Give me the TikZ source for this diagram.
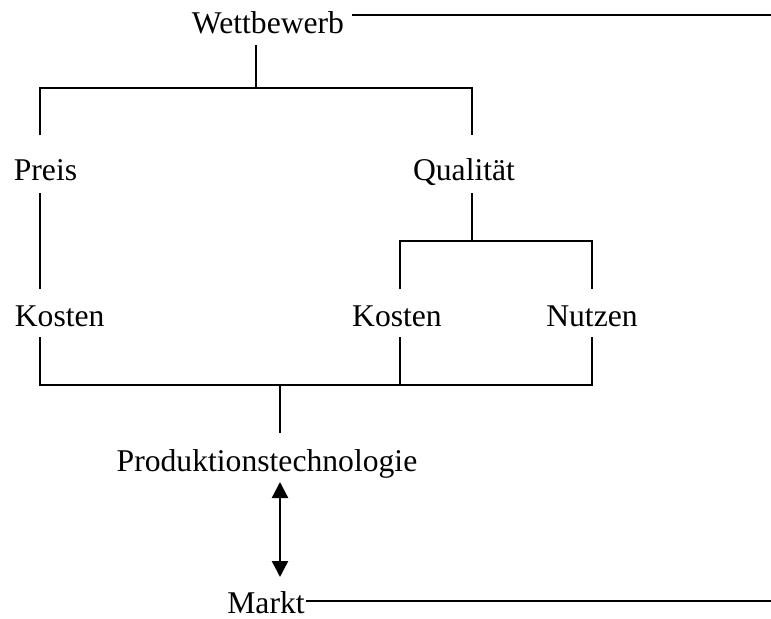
\documentclass[tikz,border=0pt]{standalone}
\usepackage{fontspec}
\setmainfont{Liberation Serif}
\usetikzlibrary{arrows.meta}

\begin{document}
\begin{tikzpicture}[x=0.025cm, y=-0.025cm, line width=1.2pt,
    lbl/.style={inner sep=0pt, font=\fontsize{22.5}{27}\selectfont},
    dbl/.style={line width=1.7pt, {Triangle[width=0.4cm,length=0.4cm]}-{Triangle[width=0.4cm,length=0.4cm]}}]
  \useasboundingbox (0,0) rectangle (771,619);
  % Begriffe
  \node[lbl, anchor=base] (wett) at (268,33) {Wettbewerb};
  \node[lbl, anchor=base west] (preis) at (13,180) {Preis};
  \node[lbl, anchor=base] (qual) at (464,180) {Qualität};
  \node[lbl, anchor=base west] (kostenP) at (14,326) {Kosten};
  \node[lbl, anchor=base] (kostenQ) at (397,326) {Kosten};
  \node[lbl, anchor=base] (nutzen) at (592,326) {Nutzen};
  \node[lbl, anchor=base] (prod) at (267,471) {Produktionstechnologie};
  \node[lbl, anchor=base] (markt) at (266,613) {Markt};
  % Wettbewerb -> Preis / Qualitaet
  \coordinate (wAst) at (256,88);
  \draw (256,45) -- (wAst);
  \draw (40,135) |- (wAst) -| (472,135);
  % Preis -> Kosten
  \draw (40,193) -- (40,289);
  % Qualitaet -> Kosten / Nutzen
  \coordinate (qAst) at (472,241);
  \draw (472,193) -- (qAst);
  \draw (400,289) |- (qAst) -| (592,289);
  % alles zusammen -> Produktionstechnologie
  \coordinate (pAst) at (280,385);
  \draw (40,337) |- (pAst) -| (592,337);
  \draw (400,337) -- (400,385);
  \draw (pAst) -- (280,433);
  % Produktionstechnologie <-> Markt
  \draw[dbl] (280,482) -- (280,577);
  % Linien nach rechts
  \draw (352,15) -- (771,15);
  \draw (markt.east |- 0,601) -- (771,601);
\end{tikzpicture}
\end{document}
